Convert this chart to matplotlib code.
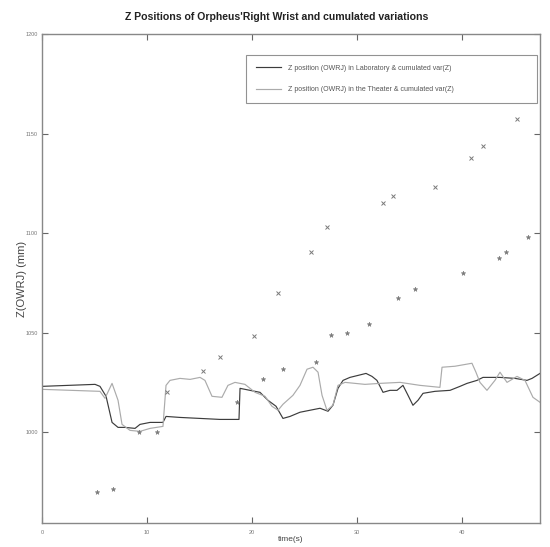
import matplotlib
matplotlib.use("Agg")
import matplotlib.pyplot as plt
from matplotlib import font_manager

plt.rcParams['font.family'] = ['Liberation Sans', 'DejaVu Sans']

# Z position of the right wrist in the laboratory (time in s, Z in mm)
lab_t = [0, 5.05, 5.52, 6.10, 6.67, 7.24, 7.90, 8.86, 9.33, 10.29, 11.52, 11.81,
         13.14, 15.05, 16.95, 18.76, 18.86, 19.81, 20.76, 21.52, 22.29, 22.95,
         23.62, 24.57, 25.52, 26.48, 27.24, 27.71, 28.19, 28.67, 29.33, 30.10,
         30.86, 31.43, 31.90, 32.48, 33.14, 33.81, 34.38, 34.86, 35.33, 35.81,
         36.29, 37.43, 38.86, 39.81, 40.48, 41.43, 42.00, 43.62, 45.05, 46.19,
         46.67, 47.43]
lab_z = [1023.1, 1024.1, 1023.1, 1018.1, 1005.0, 1002.5, 1002.5, 1002.0, 1004.0,
         1005.0, 1005.0, 1008.0, 1007.5, 1007.0, 1006.5, 1006.5, 1022.1, 1021.1,
         1020.1, 1016.1, 1013.1, 1007.0, 1008.0, 1010.1, 1011.1, 1012.1, 1010.6,
         1013.6, 1022.1, 1026.1, 1027.6, 1028.6, 1029.6, 1028.1, 1026.1, 1020.1,
         1021.1, 1021.1, 1023.6, 1018.6, 1013.6, 1016.1, 1019.6, 1020.6, 1021.1,
         1023.1, 1024.6, 1026.1, 1027.6, 1027.6, 1027.1, 1026.1, 1027.1, 1029.6]

# Z position of the right wrist in the theater
thr_t = [0, 5.52, 6.00, 6.67, 7.24, 7.62, 8.38, 9.33, 10.29, 11.52, 11.81, 12.19,
         13.14, 14.10, 15.05, 15.52, 16.19, 17.14, 17.71, 18.38, 19.33, 20.29,
         21.24, 21.90, 22.48, 22.95, 23.90, 24.57, 25.24, 25.81, 26.29, 26.67,
         27.14, 27.71, 28.19, 28.86, 29.81, 30.76, 32.19, 34.10, 36.00, 37.90,
         38.10, 39.33, 40.95, 41.33, 41.71, 42.38, 43.14, 43.62, 44.29, 45.24,
         46.00, 46.76, 47.43]
thr_z = [1021.6, 1020.6, 1017.1, 1024.6, 1016.1, 1004.0, 1001.0, 1000.5, 1002.0,
         1003.0, 1023.6, 1026.1, 1027.1, 1026.6, 1027.6, 1026.1, 1018.1, 1017.6,
         1023.6, 1025.1, 1024.1, 1020.1, 1018.1, 1013.1, 1011.1, 1014.1, 1018.6,
         1023.6, 1031.7, 1032.7, 1030.2, 1018.6, 1011.1, 1013.6, 1023.6, 1025.1,
         1024.6, 1024.1, 1024.6, 1025.1, 1023.6, 1022.6, 1032.7, 1033.2, 1034.7,
         1030.2, 1025.1, 1021.1, 1026.1, 1030.2, 1025.1, 1028.1, 1026.1, 1017.6,
         1015.1]

# cumulated variations of Z
cum_a_t = [11.90, 15.33, 16.95, 20.19, 22.48, 25.62, 27.14, 32.48, 33.43, 37.43,
           40.86, 42.00, 45.24]
cum_a_z = [1020.1, 1030.7, 1037.7, 1048.2, 1069.8, 1090.5, 1103.0, 1115.1, 1118.6,
           1123.1, 1137.7, 1143.7, 1157.3]
cum_b_t = [5.24, 6.76, 9.24, 10.95, 18.57, 21.05, 22.95, 26.10, 27.52, 29.05,
           31.14, 33.90, 35.52, 40.10, 43.52, 44.19, 46.29]
cum_b_z = [969.9, 971.4, 1000.0, 1000.0, 1015.1, 1026.6, 1031.7, 1035.2, 1048.7,
           1049.7, 1054.3, 1067.3, 1071.9, 1079.9, 1087.4, 1090.5, 1098.0]

x_ticks = [0, 10, 20, 30, 40]
y_ticks = [1000, 1050, 1100, 1150, 1200]

fig = plt.figure(figsize=(5.5, 5.47), dpi=100)
ax = fig.add_axes([0.0764, 0.0439, 0.9054, 0.8939])

ax.plot(lab_t, lab_z, color='#3c3c3c', lw=0.85,
        label='Z position (OWRJ) in Laboratory & cumulated var(Z)')
ax.plot(thr_t, thr_z, color='#ababab', lw=0.85,
        label='Z position (OWRJ) in the Theater & cumulated var(Z)')
ax.plot(cum_a_t, cum_a_z, ls='none', marker='x', ms=2.6, mew=0.7, color='#7a7a7a')
ax.plot(cum_b_t, cum_b_z, ls='none', marker='*', ms=3.4, mew=0.4, color='#7a7a7a')

ax.set_xlim(0, 47.43)
ax.set_ylim(954.5, 1200)
ax.set_xticks(x_ticks)
ax.set_yticks(y_ticks)
ax.tick_params(direction='in', length=4, width=0.8, color='#666666',
               labelsize=4, labelcolor='#777777', top=True, right=True)
ax.tick_params(axis='x', pad=5)
ax.tick_params(axis='y', pad=3)
for s in ax.spines.values():
    s.set_color('#888888')
    s.set_linewidth(1.0)

# title, narrow bold face
try:
    font_manager.findfont('Liberation Sans Narrow', fallback_to_default=False)
    title_family = ['Liberation Sans Narrow', 'Liberation Sans', 'DejaVu Sans']
    title_size = 9
except Exception:
    title_family = ['Liberation Sans', 'DejaVu Sans']
    title_size = 7.6
fig.text(277 / 550, 1 - 17 / 547,
         "Z Positions of Orpheus'Right Wrist and cumulated variations",
         ha='center', va='center', fontsize=title_size, fontweight='bold',
         color='#222222', family=title_family)

ax.set_xlabel('time(s)', fontsize=6, color='#444444', labelpad=1)
ax.set_ylabel('Z(OWRJ) (mm)', fontsize=8, color='#444444', labelpad=-1)

leg = ax.legend(loc='upper left',
                bbox_to_anchor=(246 / 550, 1 - 55 / 547, 291 / 550, 0),
                bbox_transform=fig.transFigure, mode='expand',
                fontsize=5, frameon=True, fancybox=False,
                handlelength=3.7, borderpad=1.4, labelspacing=2.1,
                handletextpad=0.9, borderaxespad=0)
leg.get_frame().set_edgecolor('#777777')
leg.get_frame().set_linewidth(0.8)
for t in leg.get_texts():
    t.set_color('#555555')

fig.savefig('out.png', dpi=100)
